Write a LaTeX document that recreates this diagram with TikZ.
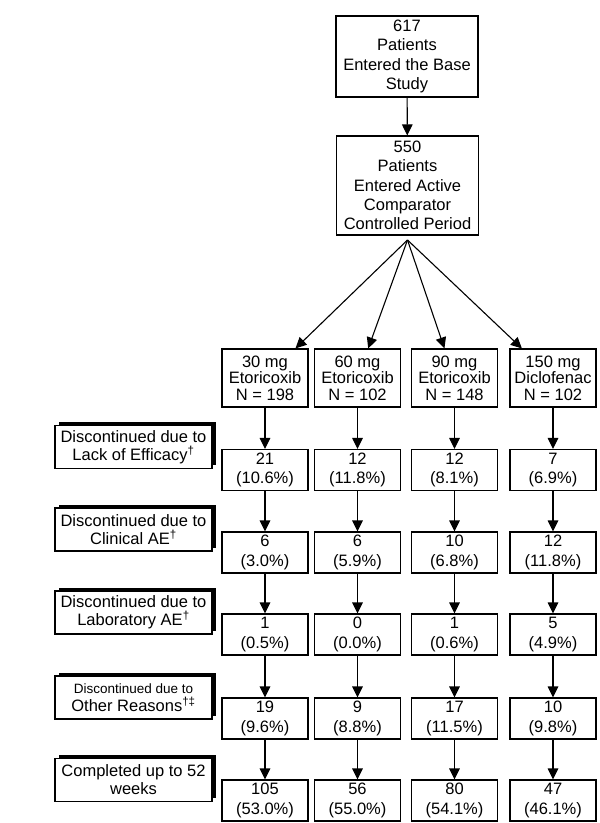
\documentclass[tikz,border=0pt]{standalone}
\usepackage{fontspec}
\setmainfont{Liberation Sans}
\usetikzlibrary{arrows.meta,shadows}
\begin{document}
\begin{tikzpicture}[x=1pt,y=-1pt,
  box/.style={draw=black, line width=1.1pt, fill=white, align=center, inner sep=0pt,
    font=\fontsize{16.5}{19.2}\selectfont},
  trt/.style={box, minimum width=86pt, minimum height=58pt, font=\fontsize{16.5}{16.5}\selectfont},
  cnt/.style={box, minimum width=86pt, minimum height=41pt, font=\fontsize{16.5}{19.5}\selectfont},
  lab/.style={box, minimum width=157pt, minimum height=43pt, font=\fontsize{16.5}{18}\selectfont,
    general shadow={fill=black, shadow xshift=3.5pt, shadow yshift=3.5pt}},
  arr/.style={draw=black, line width=1.1pt, -{Triangle[length=11pt,width=10.5pt]}}]
\useasboundingbox (0,0) rectangle (600,823);

% top boxes
\node[box, minimum width=142pt, minimum height=81pt] (base) at (407,56.5) {617\\Patients\\Entered the Base\\Study};
\node[box, minimum width=142pt, minimum height=99pt] (acp) at (407.5,185.5) {550\\Patients\\Entered Active\\Comparator\\Controlled Period};
\draw[arr] (base) -- (acp);
\coordinate (apex) at (407.5,240);

% treatment groups
\node[trt] (t1) at (265,378) {30 mg\\Etoricoxib\\N = 198};
\node[trt] (t2) at (357.5,378) {60 mg\\Etoricoxib\\N = 102};
\node[trt] (t3) at (454.5,378) {90 mg\\Etoricoxib\\N = 148};
\node[trt] (t4) at (553,378) {150 mg\\Diclofenac\\N = 102};
\draw[arr] (apex) -- (t1);
\draw[arr] (apex) -- (t2);
\draw[arr] (apex) -- (t3);
\draw[arr] (apex) -- (t4);

% row labels
\node[lab] (l1) at (133.5,447) {Discontinued due to\\Lack of Efficacy\textsuperscript{†}};
\node[lab] (l2) at (133.5,529.5) {Discontinued due to\\Clinical AE\textsuperscript{†}};
\node[lab] (l3) at (133.5,612.5) {Discontinued due to\\Laboratory AE\textsuperscript{†}};
\node[lab] (l4) at (133.5,697.5) {{\fontsize{13.5}{15}\selectfont Discontinued due to}\\Other Reasons\textsuperscript{†‡}};
\node[lab] (l5) at (133.5,780) {Completed up to 52\\weeks};

% column 1
\node[cnt] (a1) at (265,470) {21\\(10.6\%)};
\node[cnt] (a2) at (265,552.5) {6\\(3.0\%)};
\node[cnt] (a3) at (265,634.5) {1\\(0.5\%)};
\node[cnt] (a4) at (265,718.5) {19\\(9.6\%)};
\node[cnt] (a5) at (265,800.5) {105\\(53.0\%)};
% column 2
\node[cnt] (b1) at (357.5,470) {12\\(11.8\%)};
\node[cnt] (b2) at (357.5,552.5) {6\\(5.9\%)};
\node[cnt] (b3) at (357.5,634.5) {0\\(0.0\%)};
\node[cnt] (b4) at (357.5,718.5) {9\\(8.8\%)};
\node[cnt] (b5) at (357.5,800.5) {56\\(55.0\%)};
% column 3
\node[cnt] (c1) at (454.5,470) {12\\(8.1\%)};
\node[cnt] (c2) at (454.5,552.5) {10\\(6.8\%)};
\node[cnt] (c3) at (454.5,634.5) {1\\(0.6\%)};
\node[cnt] (c4) at (454.5,718.5) {17\\(11.5\%)};
\node[cnt] (c5) at (454.5,800.5) {80\\(54.1\%)};
% column 4
\node[cnt] (d1) at (553,470) {7\\(6.9\%)};
\node[cnt] (d2) at (553,552.5) {12\\(11.8\%)};
\node[cnt] (d3) at (553,634.5) {5\\(4.9\%)};
\node[cnt] (d4) at (553,718.5) {10\\(9.8\%)};
\node[cnt] (d5) at (553,800.5) {47\\(46.1\%)};

\foreach \c/\t in {a/t1,b/t2,c/t3,d/t4}{
  \draw[arr] (\t) -- (\c1);
  \draw[arr] (\c1) -- (\c2);
  \draw[arr] (\c2) -- (\c3);
  \draw[arr] (\c3) -- (\c4);
  \draw[arr] (\c4) -- (\c5);
}
\end{tikzpicture}
\end{document}
